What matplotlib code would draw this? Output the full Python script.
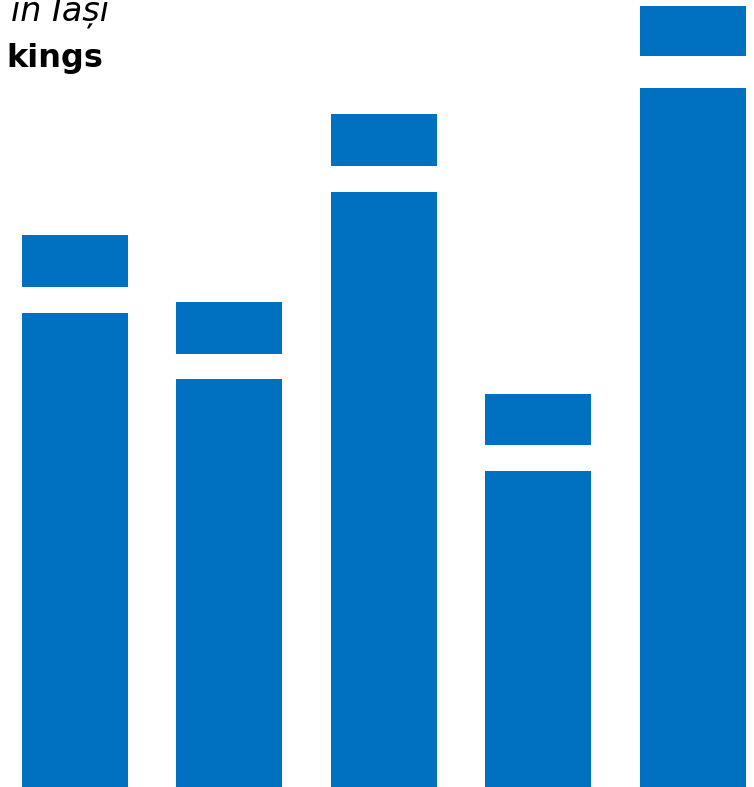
import matplotlib
matplotlib.use('Agg')
import matplotlib.pyplot as plt

# partea de jos, spatiul alb si segmentul de sus pentru fiecare bara
positions = [0, 1, 2, 3, 4]
lower = [474, 408, 595, 316, 699]
gap = [26, 25, 26, 26, 32]
upper = [52, 52, 52, 51, 50]

title_line1 = 'în Iași'
title_line2 = 'kings'

BLUE = '#0070C0'

fig = plt.figure(figsize=(7.54, 7.87), dpi=100)
ax = fig.add_axes([0, 0, 1, 1])

ax.bar(positions, lower, width=0.686, color=BLUE)
bottoms = [l + g for l, g in zip(lower, gap)]
ax.bar(positions, upper, width=0.686, bottom=bottoms, color=BLUE)

ax.set_xlim(-0.485, 4.395)
ax.set_ylim(0, 787)
ax.axis('off')

fig.text(109 / 754, 1 - 21 / 787, title_line1, ha='right', va='baseline',
         fontsize=24, style='italic', family='DejaVu Sans')
fig.text(103 / 754, 1 - 67 / 787, title_line2, ha='right', va='baseline',
         fontsize=23, fontweight='bold', family='DejaVu Sans')

fig.savefig('out.png', dpi=100)
